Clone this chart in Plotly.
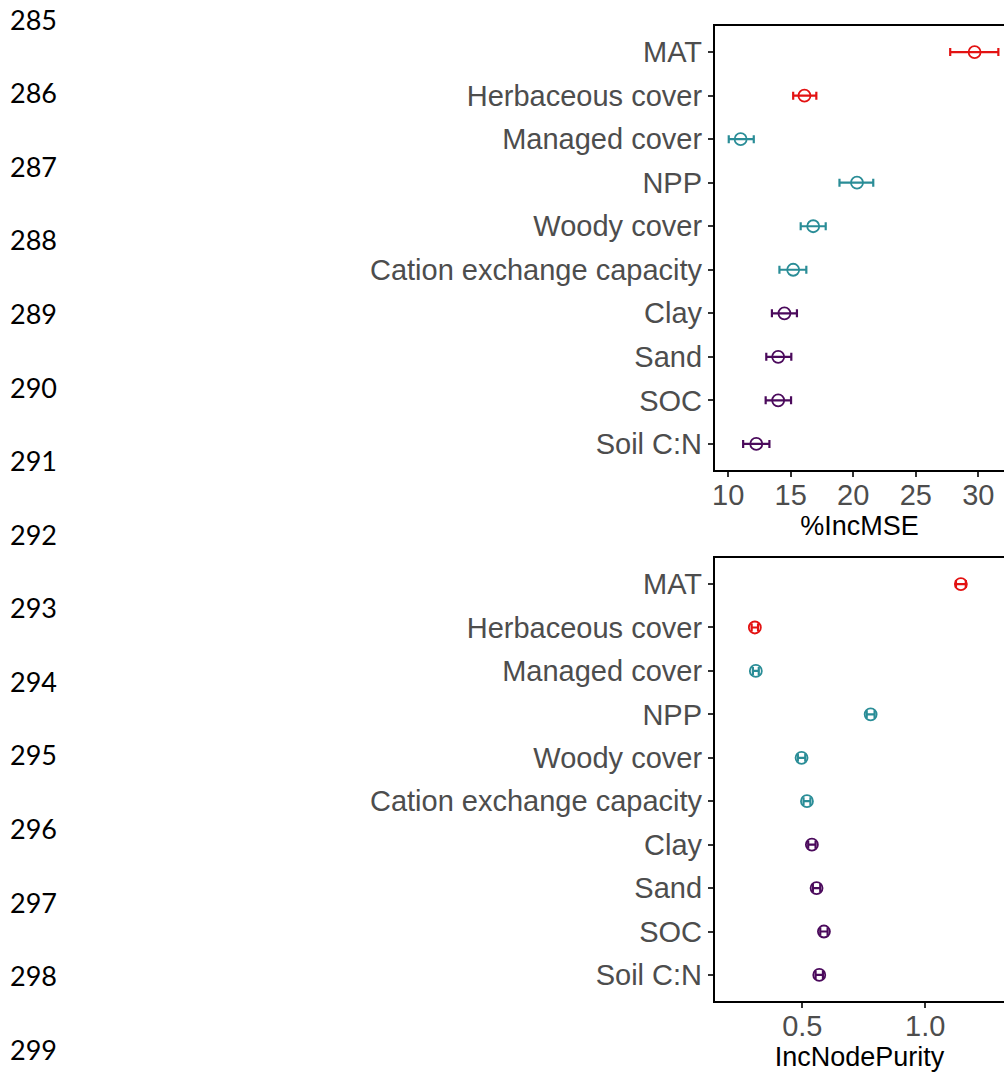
import plotly.graph_objects as go

# ---- data ----
variables = ["MAT", "Herbaceous cover", "Managed cover", "NPP", "Woody cover",
             "Cation exchange capacity", "Clay", "Sand", "SOC", "Soil C:N"]
groups = ["climate", "climate", "vegetation", "vegetation", "vegetation",
          "vegetation", "soil", "soil", "soil", "soil"]

incmse_mean = [29.7, 16.1, 11.0, 20.3, 16.8, 15.2, 14.5, 14.0, 14.0, 12.25]
incmse_low = [27.75, 15.2, 10.05, 18.9, 15.8, 14.1, 13.5, 13.05, 13.0, 11.2]
incmse_high = [31.6, 17.05, 12.05, 21.6, 17.8, 16.25, 15.5, 15.05, 15.03, 13.3]

purity_mean = [1.145, 0.307, 0.311, 0.778, 0.497, 0.519, 0.539, 0.558, 0.588, 0.569]
purity_low = [1.125, 0.294, 0.299, 0.762, 0.482, 0.505, 0.524, 0.543, 0.573, 0.554]
purity_high = [1.165, 0.320, 0.323, 0.794, 0.512, 0.533, 0.554, 0.573, 0.603, 0.584]

line_numbers = [str(n) for n in range(285, 300)]

group_colors = {"climate": "#E31212", "vegetation": "#2A8D97", "soil": "#4B0A5C"}

fig = go.Figure()

W, H = 1004, 1072


def add_panel(mean, low, high, xa, ya):
    for g in ["climate", "vegetation", "soil"]:
        idx = [i for i, gg in enumerate(groups) if gg == g]
        fig.add_trace(go.Scatter(
            x=[mean[i] for i in idx],
            y=[variables[i] for i in idx],
            mode="markers",
            marker=dict(symbol="circle-open", size=12, color=group_colors[g],
                        line=dict(width=1.8, color=group_colors[g])),
            error_x=dict(type="data", symmetric=False,
                         array=[high[i] - mean[i] for i in idx],
                         arrayminus=[mean[i] - low[i] for i in idx],
                         color=group_colors[g], thickness=2.2, width=4),
            xaxis=xa, yaxis=ya, showlegend=False, hoverinfo="skip"))


add_panel(incmse_mean, incmse_low, incmse_high, "x", "y")
add_panel(purity_mean, purity_low, purity_high, "x2", "y2")

tickfont = dict(family="Arial", size=29, color="#4D4D4D")
titlefont = dict(family="Arial", size=27, color="#000000")

xdom = [714 / W, 1.0]
top_dom = [1 - 470 / H, 1 - 26 / H]
bot_dom = [1 - 1001 / H, 1 - 558 / H]

common_x = dict(showline=True, linecolor="black", linewidth=2, mirror=True,
                ticks="outside", ticklen=5, tickcolor="#333333", tickwidth=1.5,
                showgrid=False, zeroline=False, tickfont=tickfont,
                ticklabelstandoff=-7)
common_y = dict(showline=True, linecolor="black", linewidth=2, mirror=False,
                ticks="outside", ticklen=5, tickcolor="#333333", tickwidth=1.5,
                showgrid=False, zeroline=False, tickfont=tickfont,
                type="category", categoryorder="array", categoryarray=variables,
                range=[9.6, -0.6])

fig.update_layout(
    width=W, height=H,
    margin=dict(l=0, r=0, t=0, b=0),
    paper_bgcolor="white", plot_bgcolor="white",
    xaxis=dict(domain=xdom, anchor="y", range=[8.94, 32.05],
               tickvals=[10, 15, 20, 25, 30],
               title=dict(text="%IncMSE", font=titlefont, standoff=0), **common_x),
    yaxis=dict(domain=top_dom, anchor="x", **common_y),
    xaxis2=dict(domain=xdom, anchor="y2", range=[0.1444, 1.3204],
                tickvals=[0.5, 1.0], ticktext=["0.5", "1.0"],
                title=dict(text="IncNodePurity", font=titlefont, standoff=0), **common_x),
    yaxis2=dict(domain=bot_dom, anchor="x2", **common_y),
)

# manuscript line numbers down the left margin
start_px, step_px = 19.2, 73.57
for k, lab in enumerate(line_numbers):
    fig.add_annotation(text=lab, xref="paper", yref="paper",
                       x=5 / W, y=1 - (start_px + k * step_px) / H,
                       xanchor="left", yanchor="middle", showarrow=False,
                       font=dict(family="Lato, Open Sans, sans-serif", size=27, color="black"))

fig.write_html("out.html")
